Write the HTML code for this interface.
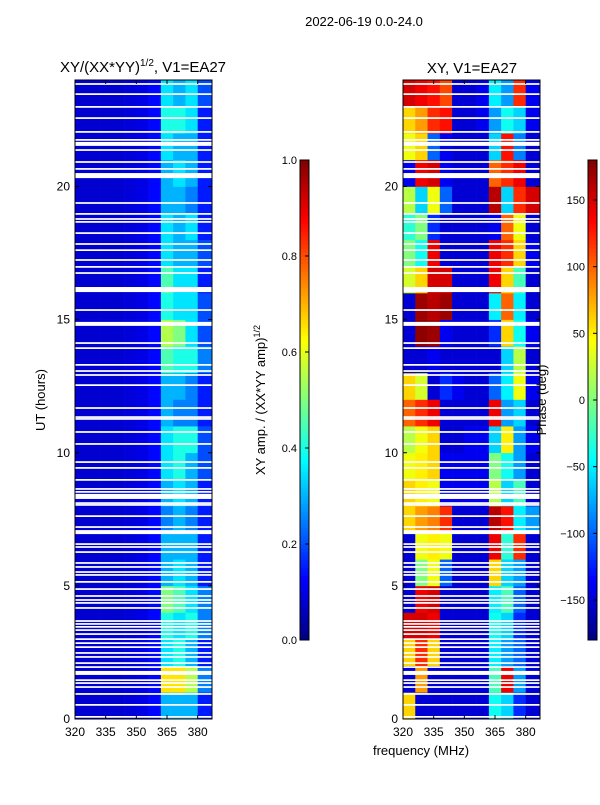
<!DOCTYPE html>
<html><head><meta charset="utf-8">
<style>
body{margin:0;background:#fff;}
svg text{font-family:"Liberation Sans","DejaVu Sans",sans-serif;fill:#000;}
</style></head>
<body>
<svg id="fig" width="600" height="800" xmlns="http://www.w3.org/2000/svg">
<text x="364" y="26" font-size="13" text-anchor="middle">2022-06-19 0.0-24.0</text>
<text x="143" y="72" font-size="15" text-anchor="middle">XY/(XX*YY)<tspan font-size="10" dy="-6">1/2</tspan><tspan dy="6">, V1=EA27</tspan></text>
<text x="472" y="73" font-size="15" text-anchor="middle">XY, V1=EA27</text>
<text x="45" y="400" font-size="13" text-anchor="middle" transform="rotate(-90 45 400)">UT (hours)</text>
<text x="421" y="755" font-size="13" text-anchor="middle">frequency (MHz)</text>
<text x="265" y="400" font-size="13" text-anchor="middle" transform="rotate(-90 265 400)">XY amp. / (XX*YY amp)<tspan font-size="9" dy="-5">1/2</tspan></text>
<g id="left"></g>
<g id="right"></g>
<g id="axes"></g>
<text x="546" y="400" font-size="13" text-anchor="middle" transform="rotate(-90 546 400)">Phase (deg)</text>
</svg>
<script>
// ---- data ----
const freqEdges=[320,326,332,338,344,350,356,362,368,374,380,387];
// amplitude rows from 0-1h (index 0) up to 23-24h; cols = bright freq bins
const ampBright=[[.3,.3,.3,.15],[.65,.65,.55,.25],[.35,.4,.3,.15],[.4,.35,.4,.25],[.5,.45,.35,.25],[.3,.35,.3,.15],[.3,.3,.3,.15],[.25,.3,.25,.15],[.3,.35,.3,.15],[.35,.4,.3,.2],[.35,.4,.4,.2],[.3,.25,.25,.15],[.3,.3,.25,.15],[.45,.4,.4,.25],[.55,.5,.35,.2],[.4,.35,.35,.2],[.45,.35,.35,.15],[.35,.3,.3,.2],[.35,.3,.35,.15],[.3,.3,.25,.15],[.3,.35,.3,.15],[.35,.3,.3,.15],[.4,.4,.35,.15],[.35,.3,.35,.2]];
const ampLow=[.08,.08,.08,.08,.09,.1,.13];
const ampEdge=.1;
// phase rows from 0-1h up to 23-24h (deg)
const phase=[
[60,-150,-150,-150,-150,-150,-150,-40,-60,-120,-150],
[-150,80,-150,-150,-150,-150,-150,-20,140,-80,-150],
[60,120,60,-150,-150,-150,-150,-50,-80,-100,-150],
[150,150,140,-150,-150,-150,-150,-40,-60,-120,-150],
[-150,140,150,-150,-150,-150,-150,-50,-20,-100,-150],
[-150,0,40,-100,-150,-150,-150,60,-60,-80,-150],
[-150,40,50,40,-150,-150,-150,140,-30,120,-150],
[60,80,90,120,-150,-150,-150,160,130,-50,-80],
[60,50,40,-140,-140,-140,-140,20,-60,-20,-150],
[40,50,60,-140,-140,-140,-140,0,-40,-80,-150],
[20,40,60,-150,-150,-140,-140,-60,50,-80,-140],
[100,120,140,-150,-150,-150,-150,140,-80,-60,-150],
[60,30,-150,-120,-140,-150,-150,-100,-50,40,-140],
[-150,-150,-140,-150,-150,-150,-150,-150,-60,20,-150],
[-150,175,170,-140,-150,-150,-150,-120,60,-40,-140],
[-150,170,160,170,-150,-150,-150,-50,100,-50,-150],
[30,60,150,150,-150,-150,-150,140,60,-20,-150],
[0,-40,140,-150,-150,-150,-150,140,120,60,-140],
[-30,0,-120,-150,-150,-150,-150,-140,100,40,-150],
[20,-60,40,-100,-150,-150,-150,160,-60,120,150],
[-140,140,150,-140,-150,-150,-150,100,120,140,-150],
[40,60,-100,-140,-150,-150,-150,-60,130,-90,-150],
[60,80,120,130,-150,-150,-140,-80,-40,-60,-140],
[150,140,130,110,-150,-150,-140,-50,-80,120,-140]];
// flagged (white) UT rows: centers and widths (hours)
const flagUT=[23.85,23.47,22.99,22.57,22.05,21.75,21.60,21.37,20.92,20.66,20.41,19.38,18.97,18.78,18.67,18.25,17.84,17.61,17.24,16.98,16.75,16.13,15.36,14.84,14.12,13.93,13.30,13.07,12.92,12.54,11.68,11.34,11.27,10.78,10.33,9.65,9.43,8.98,8.64,8.53,8.36,8.11,8.04,7.62,7.21,7.02,6.57,6.46,6.27,5.86,5.71,5.52,5.41,5.15,4.88,4.62,4.47,4.36,4.17,3.68,3.57,3.46,3.34,3.19,3.00,2.85,2.70,2.48,2.33,2.10,1.95,1.73,1.46,1.35,1.20,0.94,0.53,0.08];
const flagW=[.065,.065,.065,.065,.065,.065,.15,.065,.065,.065,.19,.065,.065,.065,.065,.065,.065,.065,.065,.065,.065,.19,.065,.15,.065,.065,.065,.065,.065,.065,.065,.065,.065,.065,.065,.065,.065,.065,.065,.065,.19,.065,.065,.065,.065,.15,.065,.065,.065,.065,.065,.065,.065,.065,.065,.065,.065,.065,.065,.065,.065,.065,.065,.065,.065,.065,.065,.065,.065,.065,.065,.15,.065,.065,.065,.065,.065,.065];
const yTicks=[0,5,10,15,20];
const xTicks=[320,335,350,365,380];
const ampTicks=[0.0,0.2,0.4,0.6,0.8,1.0];
const phaseTicks=[-150,-100,-50,0,50,100,150];
// ---- scales ----
const NS='http://www.w3.org/2000/svg';
const Y0=719,Y1=80;
const yS=u=>Y0-(u/24)*(Y0-Y1);
function xS(x0){return f=>x0+(f-320)*(137/67);}
function jet(v){v=Math.max(0,Math.min(1,v));
 const c=t=>Math.round(255*Math.max(0,Math.min(1,1.5-Math.abs(4*v-t))));
 return `rgb(${c(3)},${c(2)},${c(1)})`;}
function mk(parent,tag,attrs){const e=document.createElementNS(NS,tag);for(const k in attrs)e.setAttribute(k,attrs[k]);parent.appendChild(e);return e;}
const L=document.getElementById('left'),R=document.getElementById('right'),A=document.getElementById('axes');
function ampVal(r,c){return c<7?ampLow[c]:(c<11?ampBright[r][c-7]:ampEdge);}
function drawPanel(g,x0,valFn){
 const xs=xS(x0);
 for(let r=0;r<24;r++)for(let c=0;c<11;c++){
  const x=xs(freqEdges[c]),w=xs(freqEdges[c+1])-x;
  const y=yS(r+1),h=yS(r)-y;
  const el=mk(g,'rect',{x:x.toFixed(2),y:y.toFixed(2),width:(w+0.3).toFixed(2),height:(h+0.3).toFixed(2),fill:jet(valFn(r,c))});
  
  
 }
 flagUT.forEach((u,i)=>{
  const el=mk(g,'rect',{x:x0,y:(yS(u)-flagW[i]*26.625/2).toFixed(2),width:137,height:(flagW[i]*26.625).toFixed(2),fill:'#fff'});
  
  
 });
 const fr=mk(A,'rect',{x:x0,y:Y1,width:137,height:Y0-Y1,fill:'none',stroke:'#000','stroke-width':1});
 
 
 yTicks.forEach(t=>{const y=yS(t);
  mk(A,'line',{x1:x0,x2:x0+4,y1:y,y2:y,stroke:'#000'});
  mk(A,'line',{x1:x0+137,x2:x0+133,y1:y,y2:y,stroke:'#000'});
  const tx=mk(A,'text',{x:x0-5,y:y+4,'font-size':12,'text-anchor':'end'});tx.textContent=t;
  
  });
 xTicks.forEach(t=>{const x=xs(t);
  mk(A,'line',{x1:x,x2:x,y1:Y0,y2:Y0-4,stroke:'#000'});
  mk(A,'line',{x1:x,x2:x,y1:Y1,y2:Y1+4,stroke:'#000'});
  const tx=mk(A,'text',{x:x,y:736,'font-size':12,'text-anchor':'middle'});tx.textContent=t;
  
  });
}
drawPanel(L,75,ampVal);
drawPanel(R,403,(r,c)=>(phase[r][c]+180)/360);
function colorbar(x0,min,max,ticks,fmt){
 const g=mk(A,'g',{});
 
 
 for(let i=0;i<120;i++){mk(g,'rect',{x:x0,y:640-(i+1)*4,width:9,height:4.4,fill:jet((i+0.5)/120)});}
 mk(g,'rect',{x:x0,y:160,width:9,height:480,fill:'none',stroke:'#000'});
 ticks.forEach(t=>{const y=640-(t-min)/(max-min)*480;
  mk(g,'line',{x1:x0+9,x2:x0+5,y1:y,y2:y,stroke:'#000'});
  const tx=mk(g,'text',{x:x0-3,y:y+4,'font-size':11,'text-anchor':'end'});tx.textContent=fmt(t);
  
  });
}
colorbar(300,0,1,ampTicks,t=>t.toFixed(1));
colorbar(588,-180,180,phaseTicks,t=>t<0?'\u2212'+(-t):String(t));
</script>
</body></html>
